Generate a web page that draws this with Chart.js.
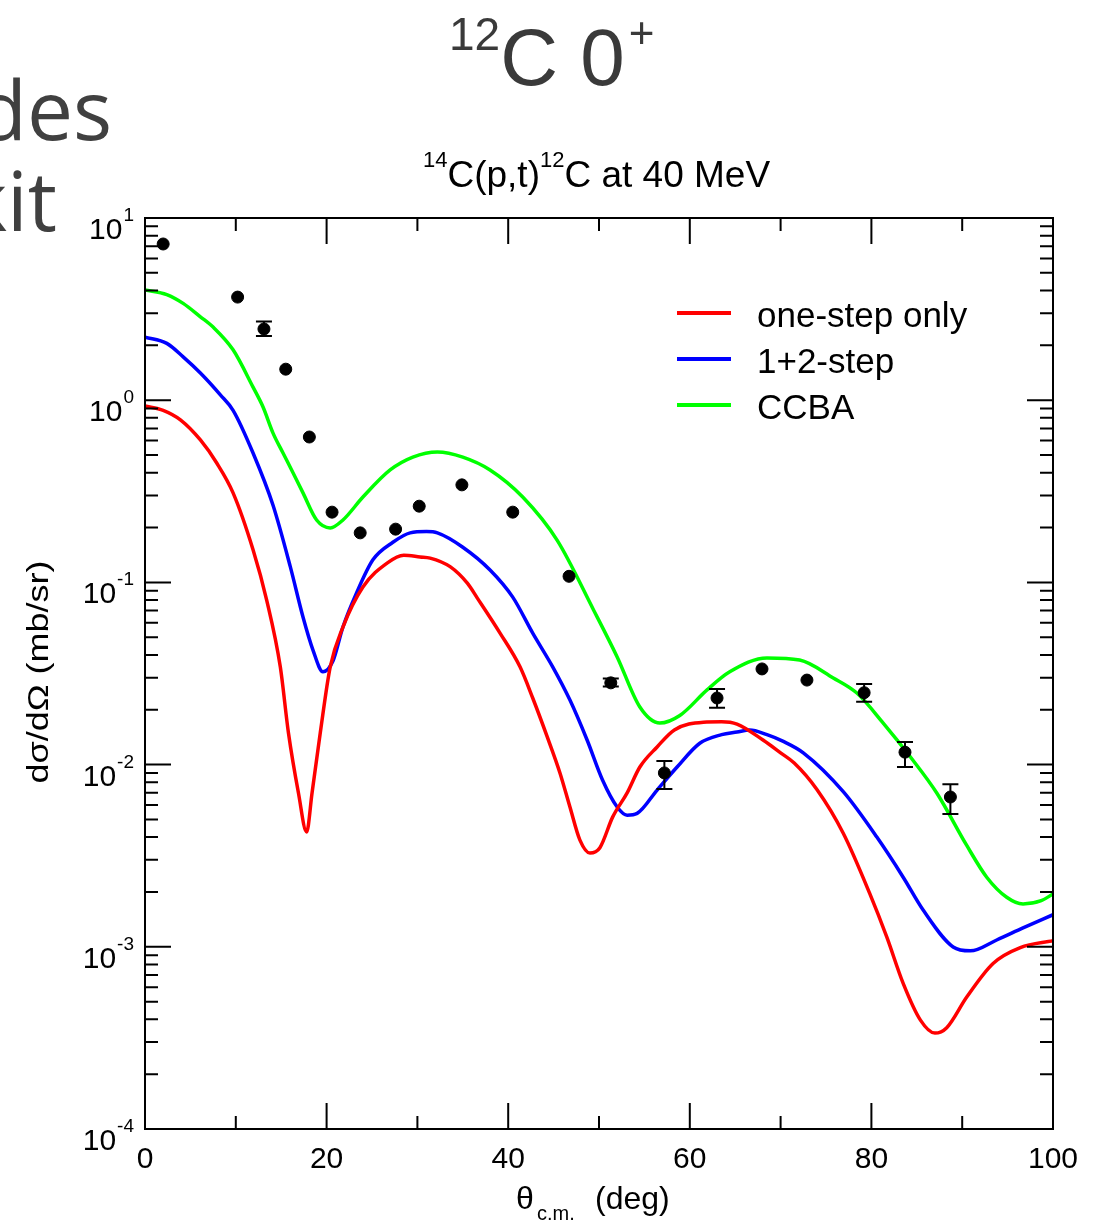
<!DOCTYPE html>
<html>
<head>
<meta charset="utf-8">
<script src="https://cdn.jsdelivr.net/npm/chart.js@4.4.1/dist/chart.umd.min.js"></script>
<style>
html, body { margin: 0; padding: 0; background: #fff; }
canvas { display: block; }
</style>
</head>
<body>
<canvas id="xsec" width="1095" height="1223"></canvas>
<script>
'use strict';

// one-step only (red)
var oneStepX = [0, 2, 3.9, 6.1, 7.9, 9.7, 11.9, 13.4, 14.9, 15.8, 16.9, 17.8, 18.4, 19.3, 20.4, 21.8, 24.0, 26.7, 28.5, 30.3, 31.4, 33.6, 35.5, 36.6, 39.1, 41.3, 42.7, 44.3, 45.7, 46.8, 47.9, 49.0, 50.1, 51.5, 53.1, 54.5, 56.4, 58.3, 61.5, 63.5, 65.2, 68.1, 70.0, 71.5, 74.0, 76.9, 79.8, 81.7, 83.5, 85.4, 87.0, 88.3, 90.5, 93.4, 96.4, 100];
var oneStepY = [0.93, 0.88, 0.78, 0.605, 0.452, 0.31, 0.151, 0.080, 0.0344, 0.0149, 0.00698, 0.00427, 0.007, 0.0149, 0.0344, 0.0569, 0.0944, 0.128, 0.141, 0.138, 0.136, 0.122, 0.099, 0.082, 0.0527, 0.0344, 0.0232, 0.0142, 0.0090, 0.00585, 0.00385, 0.00327, 0.0035, 0.00515, 0.0070, 0.0097, 0.0125, 0.0155, 0.0171, 0.0172, 0.0167, 0.0136, 0.0116, 0.0102, 0.0073, 0.0042, 0.00197, 0.00113, 0.00063, 0.000396, 0.000336, 0.00036, 0.00053, 0.00081, 0.00099, 0.00108];

// 1+2-step (blue)
var twoStepX = [0, 2.4, 4.2, 6.1, 8.3, 9.7, 11.9, 14.1, 16.0, 17.4, 18.5, 19.6, 20.7, 21.8, 23.3, 25.1, 27.3, 29.2, 31.0, 32.2, 35.0, 38.0, 40.5, 42.7, 44.9, 46.8, 48.7, 50.4, 52.0, 53.1, 54.2, 56.4, 58.6, 61.1, 63.5, 65.2, 66.6, 68.5, 70.3, 72.5, 76.9, 80.6, 83.5, 85.7, 89.0, 90.9, 93.8, 96.7, 100];
var twoStepY = [2.22, 2.05, 1.73, 1.41, 1.07, 0.88, 0.513, 0.265, 0.122, 0.0646, 0.0425, 0.0323, 0.037, 0.0569, 0.0875, 0.133, 0.166, 0.187, 0.19, 0.187, 0.156, 0.117, 0.083, 0.0527, 0.0344, 0.0226, 0.0136, 0.0082, 0.00585, 0.00528, 0.0054, 0.00725, 0.0097, 0.0131, 0.0146, 0.0151, 0.0155, 0.0146, 0.0134, 0.0116, 0.0071, 0.0040, 0.00241, 0.00159, 0.000998, 0.00095, 0.00109, 0.00127, 0.0015];

// CCBA (green)
var ccbaX = [0, 2.4, 4.2, 6.1, 7.5, 9.7, 11.9, 13.0, 14.1, 15.2, 16.3, 17.4, 18.9, 20.4, 21.8, 24.0, 27.0, 29.5, 32.2, 35.0, 38.0, 41.6, 45.4, 49.4, 52.0, 54.5, 56.7, 58.9, 61.9, 64.4, 68.5, 72.1, 75.8, 78.4, 81.3, 84.3, 87.2, 90.5, 92.7, 94.9, 96.7, 98.7, 100];
var ccbaY = [4.03, 3.8, 3.4, 2.87, 2.52, 1.89, 1.18, 0.918, 0.66, 0.513, 0.40, 0.31, 0.22, 0.199, 0.22, 0.294, 0.414, 0.487, 0.52, 0.487, 0.414, 0.294, 0.17, 0.0706, 0.039, 0.0207, 0.0169, 0.0186, 0.0257, 0.0323, 0.0385, 0.0375, 0.0299, 0.0247, 0.0169, 0.011, 0.00698, 0.0036, 0.00241, 0.00187, 0.00172, 0.00179, 0.00195];

// measured points
var expX = [2.0, 10.2, 13.1, 15.5, 18.1, 20.6, 23.7, 27.6, 30.2, 34.9, 40.5, 46.7, 51.3, 57.2, 63.0, 67.95, 72.9, 79.2, 83.7, 88.7];
var expY = [7.2, 3.68, 2.46, 1.48, 0.628, 0.243, 0.187, 0.196, 0.262, 0.343, 0.243, 0.108, 0.0281, 0.0090, 0.0232, 0.0335, 0.0291, 0.0248, 0.0117, 0.00664];
var expLo = [null, null, 2.25, null, null, null, null, null, null, null, null, null, 0.0268, 0.00734, 0.0205, null, null, 0.0221, 0.0097, 0.00535];
var expHi = [null, null, 2.7, null, null, null, null, null, null, null, null, null, 0.0297, 0.01047, 0.026, null, null, 0.0277, 0.0133, 0.00781];

var xTicks = [0, 20, 40, 60, 80, 100];
var yDecades = [-4, -3, -2, -1, 0, 1];

var pts = function(xs, ys) {
    return xs.map(function(x, i) { return {x: x, y: ys[i]}; });
};

var lineSet = function(label, xs, ys, color) {
    return {
        label: label,
        data: pts(xs, ys),
        showLine: true,
        borderColor: color,
        backgroundColor: color,
        borderWidth: 3.5,
        pointRadius: 0,
        cubicInterpolationMode: 'monotone',
        isCurve: true
    };
};

var FONT = '"Liberation Sans", Arial, sans-serif';

// error bars on the measured points
var errorBars = {
    id: 'errorBars',
    afterDatasetsDraw: function(chart) {
        var ctx = chart.ctx, xs = chart.scales.x, ys = chart.scales.y;
        ctx.save();
        ctx.strokeStyle = '#000';
        ctx.lineWidth = 2;
        expX.forEach(function(x, i) {
            if (expLo[i] === null) return;
            var px = xs.getPixelForValue(x);
            var p1 = ys.getPixelForValue(expLo[i]);
            var p2 = ys.getPixelForValue(expHi[i]);
            ctx.beginPath();
            ctx.moveTo(px, p1); ctx.lineTo(px, p2);
            ctx.moveTo(px - 8, p1); ctx.lineTo(px + 8, p1);
            ctx.moveTo(px - 8, p2); ctx.lineTo(px + 8, p2);
            ctx.stroke();
        });
        ctx.restore();
    }
};

// frame, inward ticks and tick labels
var frame = {
    id: 'frame',
    afterDraw: function(chart) {
        var ctx = chart.ctx, a = chart.chartArea, xs = chart.scales.x, ys = chart.scales.y;
        ctx.save();
        ctx.strokeStyle = '#000';
        ctx.lineWidth = 2;
        ctx.strokeRect(a.left, a.top, a.right - a.left, a.bottom - a.top);
        ctx.beginPath();
        for (var v = 0; v <= 100; v += 10) {
            var px = xs.getPixelForValue(v);
            var len = (v % 20 === 0) ? 26 : 13;
            ctx.moveTo(px, a.bottom); ctx.lineTo(px, a.bottom - len);
            ctx.moveTo(px, a.top); ctx.lineTo(px, a.top + len);
        }
        yDecades.forEach(function(e) {
            for (var m = 1; m <= 9; m++) {
                if (e === 1 && m > 1) break;
                var py = ys.getPixelForValue(m * Math.pow(10, e));
                var l = (m === 1) ? 26 : 13;
                ctx.moveTo(a.left, py); ctx.lineTo(a.left + l, py);
                ctx.moveTo(a.right, py); ctx.lineTo(a.right - l, py);
            }
        });
        ctx.stroke();

        ctx.fillStyle = '#000';
        ctx.textBaseline = 'alphabetic';
        ctx.textAlign = 'center';
        ctx.font = '30px ' + FONT;
        xTicks.forEach(function(t) {
            ctx.fillText(String(t), xs.getPixelForValue(t), a.bottom + 39);
        });

        ctx.textAlign = 'left';
        yDecades.forEach(function(e) {
            var py = ys.getPixelForValue(Math.pow(10, e));
            var sup = String(e);
            ctx.font = '19px ' + FONT;
            var ws = ctx.measureText(sup).width;
            ctx.font = '30px ' + FONT;
            var wb = ctx.measureText('10').width;
            var right = a.left - 11;
            ctx.fillText('10', right - ws - 1 - wb, py + 21);
            ctx.font = '19px ' + FONT;
            ctx.fillText(sup, right - ws, py + 3);
        });
        ctx.restore();
    }
};

// legend in the upper right of the plot
var legendBox = {
    id: 'legendBox',
    afterDraw: function(chart) {
        var ctx = chart.ctx;
        var y = 313;
        ctx.save();
        ctx.font = '35px ' + FONT;
        ctx.fillStyle = '#000';
        chart.data.datasets.forEach(function(ds) {
            if (!ds.isCurve) return;
            ctx.strokeStyle = ds.borderColor;
            ctx.lineWidth = 4;
            ctx.beginPath();
            ctx.moveTo(677, y); ctx.lineTo(731, y);
            ctx.stroke();
            ctx.fillText(ds.label, 757, y + 14);
            y += 46;
        });
        ctx.restore();
    }
};

// titles, axis names and the slide text behind the figure
var texts = {
    id: 'texts',
    afterDraw: function(chart) {
        var ctx = chart.ctx;
        ctx.save();
        ctx.textBaseline = 'alphabetic';

        ctx.fillStyle = '#404040';
        ctx.textAlign = 'right';
        ctx.font = '82px "Open Sans", sans-serif';
        ctx.fillText('des', 112, 140);
        ctx.fillText('kit', 57, 231);

        ctx.textAlign = 'left';
        ctx.fillStyle = '#3a3a3a';
        var x = 449;
        ctx.font = '46px ' + FONT;
        ctx.fillText('12', x, 50);
        x += ctx.measureText('12').width;
        ctx.font = '80px ' + FONT;
        ctx.fillText('C 0', x, 85);
        x += ctx.measureText('C 0').width + 4;
        ctx.font = '44px ' + FONT;
        ctx.fillText('+', x, 48);

        ctx.fillStyle = '#000';
        x = 423;
        var parts = [['14', 22, 167], ['C(p,t)', 37, 187], ['12', 22, 167], ['C at 40 MeV', 37, 187]];
        parts.forEach(function(p) {
            ctx.font = p[1] + 'px ' + FONT;
            ctx.fillText(p[0], x, p[2]);
            x += ctx.measureText(p[0]).width;
        });

        ctx.font = '32px ' + FONT;
        ctx.fillText('\u03b8', 516, 1209);
        ctx.font = '20px ' + FONT;
        ctx.fillText('c.m.', 537, 1220);
        ctx.font = '32px ' + FONT;
        ctx.fillText('(deg)', 595, 1209);

        ctx.translate(48, 672);
        ctx.rotate(-Math.PI / 2);
        ctx.scale(1.2, 1);
        ctx.textAlign = 'center';
        ctx.font = '30px ' + FONT;
        ctx.fillText('d\u03c3/d\u03a9 (mb/sr)', 0, 0);
        ctx.restore();
    }
};

var ctx = document.getElementById('xsec').getContext('2d');

var chart = new Chart(ctx, {
    type: 'scatter',
    data: {
        datasets: [
            {
                label: 'data',
                data: pts(expX, expY),
                showLine: false,
                pointRadius: 6,
                pointStyle: 'circle',
                backgroundColor: '#000',
                borderColor: '#000',
                borderWidth: 1
            },
            lineSet('one-step only', oneStepX, oneStepY, '#ff0000'),
            lineSet('1+2-step', twoStepX, twoStepY, '#0000ff'),
            lineSet('CCBA', ccbaX, ccbaY, '#00ff00')
        ]
    },
    options: {
        responsive: false,
        devicePixelRatio: 1,
        animation: false,
        layout: { padding: { top: 218, right: 42, left: 0, bottom: 0 } },
        plugins: {
            legend: { display: false },
            tooltip: { enabled: false },
            title: { display: false }
        },
        scales: {
            x: {
                type: 'linear',
                min: 0,
                max: 100,
                ticks: { display: false },
                grid: { display: false },
                border: { display: false },
                afterFit: function(scale) { scale.height = 94; }
            },
            y: {
                type: 'logarithmic',
                min: 1e-4,
                max: 10,
                ticks: { display: false },
                grid: { display: false },
                border: { display: false },
                afterFit: function(scale) { scale.width = 145; }
            }
        }
    },
    plugins: [errorBars, frame, legendBox, texts]
});
</script>
</body>
</html>
